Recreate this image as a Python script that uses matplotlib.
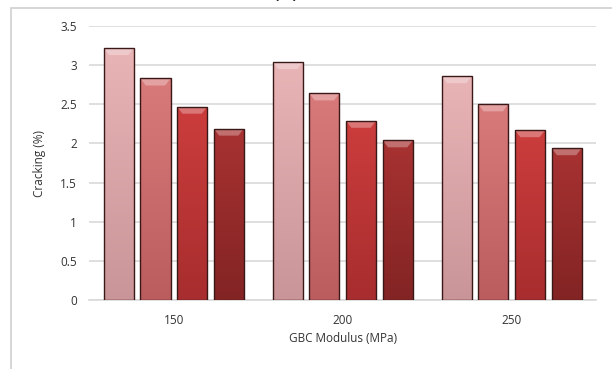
import matplotlib
matplotlib.use('Agg')
import matplotlib.pyplot as plt
import numpy as np
from matplotlib.colors import LinearSegmentedColormap
from matplotlib.patches import Rectangle, Polygon

modulus = ['150', '200', '250']
series_1 = [3.22, 3.04, 2.86]
series_2 = [2.83, 2.64, 2.50]
series_3 = [2.47, 2.29, 2.17]
series_4 = [2.19, 2.04, 1.94]
y_ticks = [0, 0.5, 1, 1.5, 2, 2.5, 3, 3.5]
y_tick_labels = ['0', '0.5', '1', '1.5', '2', '2.5', '3', '3.5']

# (top colour, bottom colour) for each series
shades = [('#e8b4b6', '#c99598'),
          ('#d97a7a', '#bb5d5f'),
          ('#cc3d3d', '#a82d2e'),
          ('#a83232', '#832424')]

plt.rcParams['font.family'] = ['Open Sans', 'DejaVu Sans']

fig = plt.figure(figsize=(6.12, 3.69), dpi=100)
ax = fig.add_axes([0.146, 0.187, 0.828, 0.7425])

# outer frame of the chart area
fig.add_artist(Rectangle((11 / 612, -0.01), 1.2, 1 - 8 / 369 + 0.01,
                         transform=fig.transFigure, fill=False,
                         edgecolor='#d0d0d0', linewidth=1.2))

all_series = [series_1, series_2, series_3, series_4]
x = np.arange(len(modulus))
width = 0.178
pitch = 0.217

for s, vals in enumerate(all_series):
    top_c, bot_c = shades[s]
    cmap = LinearSegmentedColormap.from_list('g%d' % s, [bot_c, top_c])
    for i, v in enumerate(vals):
        x0 = x[i] + (s - 1.5) * pitch - width / 2
        bar = Rectangle((x0, 0), width, v, facecolor='none',
                        edgecolor='#3b1818', linewidth=1.0, zorder=4)
        ax.add_patch(bar)
        grad = np.linspace(0, 1, 100).reshape(-1, 1)
        im = ax.imshow(grad, cmap=cmap, origin='lower', aspect='auto',
                       extent=[x0, x0 + width, 0, v], zorder=3)
        im.set_clip_path(bar)
        # bevel on top of the bar
        bh = 0.09
        bev = Polygon([[x0, v], [x0 + width, v],
                       [x0 + width * 0.82, v - bh], [x0 + width * 0.18, v - bh]],
                      closed=True, facecolor='white', alpha=0.3,
                      edgecolor='none', zorder=3.5)
        ax.add_patch(bev)

ax.set_xlim(-0.5, 2.5)
ax.set_ylim(0, 3.5)
ax.set_xticks(x)
ax.set_xticklabels(modulus)
ax.set_yticks(y_ticks)
ax.set_yticklabels(y_tick_labels)
ax.yaxis.grid(True, color='#d9d9d9', linewidth=1.2)
ax.set_axisbelow(True)
for sp in ['top', 'right', 'left']:
    ax.spines[sp].set_visible(False)
ax.spines['bottom'].set_color('#d9d9d9')
ax.spines['bottom'].set_linewidth(1.2)
ax.tick_params(axis='both', length=0, labelsize=8.5, colors='#333333', pad=9)
ax.tick_params(axis='x', pad=10)
ax.set_xlabel('GBC Modulus (MPa)', fontsize=8.5, color='#333333', labelpad=4)
ax.set_ylabel('Cracking (%)', fontsize=8.5, color='#333333', labelpad=10)

fig.text(0.466, 1.02, '(b)', ha='center', va='center', fontsize=16, color='#222222')

fig.savefig('out.png', dpi=100)
